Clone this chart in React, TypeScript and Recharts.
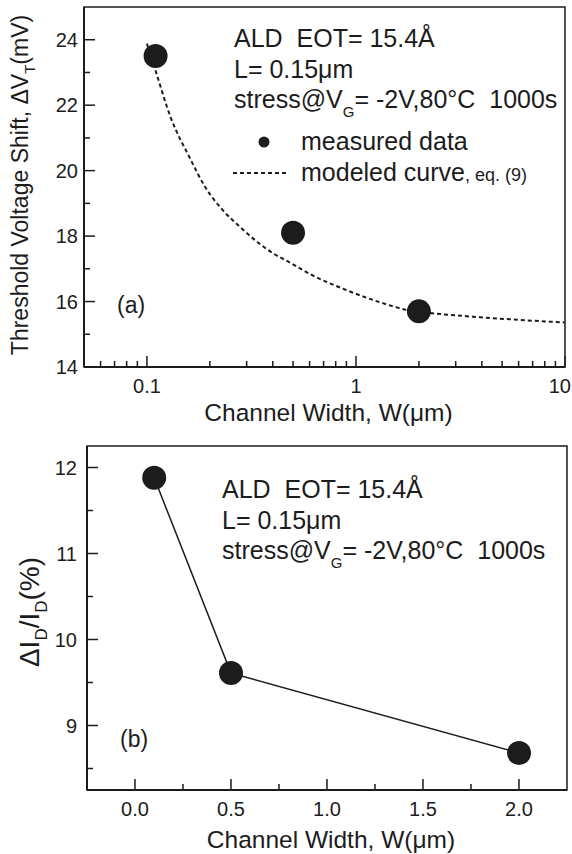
import React from 'react';
import {
  ComposedChart,
  LineChart,
  Line,
  Scatter,
  XAxis,
  YAxis,
  Legend,
  ReferenceArea,
  Label
} from 'recharts';

const FONT = '"Liberation Sans", Arial, Helvetica, sans-serif';
const INK = '#1c1c1c';

// (a) threshold voltage shift vs channel width, log x
const widthA = [0.11, 0.5, 2];
const shiftA = [23.5, 18.1, 15.7];
const modelW = [0.1, 0.11, 0.13, 0.16, 0.19, 0.23, 0.28, 0.33, 0.4, 0.48, 0.62, 0.9, 1.3, 1.76, 2.27, 3.95, 10];
const modelV = [23.88, 23.05, 21.62, 20.4, 19.5, 18.8, 18.27, 17.87, 17.48, 17.2, 16.8, 16.35, 15.98, 15.74, 15.65, 15.52, 15.36];
const ticksAx = [0.06, 0.07, 0.08, 0.09, 0.1, 0.2, 0.3, 0.4, 0.5, 0.6, 0.7, 0.8, 0.9, 1, 2, 3, 4, 5, 6, 7, 8, 9, 10];
const majorAx = [0.1, 1, 10];
const ticksAy = [14, 15, 16, 17, 18, 19, 20, 21, 22, 23, 24];
const majorAy = [14, 16, 18, 20, 22, 24];

// (b) drain current degradation vs channel width
const widthB = [0.1, 0.5, 2];
const idB = [11.88, 9.61, 8.68];
const ticksBx = [0, 0.25, 0.5, 0.75, 1, 1.25, 1.5, 1.75, 2];
const majorBx = [0, 0.5, 1, 1.5, 2];
const ticksBy = [8.5, 9, 9.5, 10, 10.5, 11, 11.5, 12];
const majorBy = [9, 10, 11, 12];

const pointsA = widthA.map((w, i) => ({ w, v: shiftA[i] }));
const modelA = modelW.map((w, i) => ({ w, v: modelV[i] }));
const pointsB = widthB.map((w, i) => ({ w, v: idB[i] }));

const isIn = (list: number[], v: number) => list.some((m) => Math.abs(m - v) < 1e-9);

const xTick = (majors: number[], fmt: (v: number) => string) => (props: any) => {
  const { x, y, payload } = props;
  const major = isIn(majors, payload.value);
  // the last label sits on the right frame, keep it inside the page
  const edge = x > 555;
  return (
    <g>
      <line x1={x} x2={x} y1={y} y2={y - (major ? 11 : 6)} stroke={INK} strokeWidth={1.5} />
      {major && (
        <text
          x={edge ? 571 : x}
          y={y + 26}
          textAnchor={edge ? 'end' : 'middle'}
          fontSize={20}
          fontFamily={FONT}
          fill={INK}
        >
          {fmt(payload.value)}
        </text>
      )}
    </g>
  );
};

const yTick = (majors: number[], gap: number) => (props: any) => {
  const { x, y, payload } = props;
  const major = isIn(majors, payload.value);
  return (
    <g>
      <line x1={x} x2={x + (major ? 11 : 6)} y1={y} y2={y} stroke={INK} strokeWidth={1.5} />
      {major && (
        <text x={x - gap} y={y + 7} textAnchor="end" fontSize={20} fontFamily={FONT} fill={INK}>
          {payload.value}
        </text>
      )}
    </g>
  );
};

const xTitle = (dy: number) => (props: any) => {
  const { x, y, width } = props.viewBox;
  return (
    <text x={x + width / 2 + 4} y={y + dy} textAnchor="middle" fontSize={24.5} fontFamily={FONT} fill={INK}>
      Channel Width, W(μm)
    </text>
  );
};

const yTitleA = (props: any) => {
  const { y, height } = props.viewBox;
  const cx = 28;
  const cy = y + height / 2 - 2;
  return (
    <text transform={`translate(${cx},${cy}) rotate(-90)`} textAnchor="middle" fontSize={23} fontFamily={FONT} fill={INK}>
      Threshold Voltage Shift, ΔV
      <tspan fontSize={15} dy={7}>T</tspan>
      <tspan dy={-7}>(mV)</tspan>
    </text>
  );
};

const yTitleB = (props: any) => {
  const { y, height } = props.viewBox;
  const cx = 39;
  const cy = y + height / 2 - 6;
  return (
    <text transform={`translate(${cx},${cy}) rotate(-90)`} textAnchor="middle" fontSize={28} fontFamily={FONT} fill={INK}>
      ΔI
      <tspan fontSize={17} dy={8}>D</tspan>
      <tspan dy={-8}>/I</tspan>
      <tspan fontSize={17} dy={8}>D</tspan>
      <tspan dy={-8}>(%)</tspan>
    </text>
  );
};

const Notes = ({ x, y, tag, tagX, tagY }: { x: number; y: number; tag: string; tagX: number; tagY: number }) => (
  <svg width={572} height={430} style={{ position: 'absolute', left: 0, top: 0, pointerEvents: 'none' }}>
    <g fontFamily={FONT} fontSize={25} fill={INK}>
      <text x={x} y={y} xmlSpace="preserve">ALD  EOT= 15.4Å</text>
      <text x={x} y={y + 31}>L= 0.15μm</text>
      <text x={x} y={y + 61} xmlSpace="preserve">
        stress@V
        <tspan fontSize={15} dy={9}>G</tspan>
        <tspan dy={-9} xmlSpace="preserve">= -2V,80°C  1000s</tspan>
      </text>
      <text x={tagX} y={tagY} fontSize={23}>{tag}</text>
    </g>
  </svg>
);

const legendA = (props: any) => {
  const items = props.payload || [];
  return (
    <svg width={340} height={70}>
      {items.map((it: any, i: number) => {
        const cy = 14 + i * 31;
        const dashed = it.type === 'line';
        return (
          <g key={it.value}>
            {dashed ? (
              <line x1={0} x2={54} y1={cy} y2={cy} stroke={INK} strokeWidth={2} strokeDasharray="4 3" />
            ) : (
              <circle cx={31} cy={cy} r={5.5} fill={INK} />
            )}
            <text x={68} y={cy + 8} fontSize={25} fontFamily={FONT} fill={INK}>
              {it.value}
              {dashed && <tspan fontSize={18}>, eq. (9)</tspan>}
            </text>
          </g>
        );
      })}
    </svg>
  );
};

export default function App() {
  return (
    <div style={{ position: 'absolute', left: 0, top: 0, width: 572, height: 854, background: '#fff' }}>
      <div style={{ position: 'absolute', left: 0, top: 0, width: 572, height: 430 }}>
        <ComposedChart width={572} height={430} margin={{ top: 7, right: 7, bottom: 0, left: 0 }}>
          <XAxis
            dataKey="w"
            type="number"
            scale="log"
            domain={[0.05, 10]}
            allowDataOverflow
            ticks={ticksAx}
            interval={0}
            tickSize={0}
            tickMargin={0}
            tick={xTick(majorAx, (v) => String(v))}
            axisLine={{ stroke: INK, strokeWidth: 2 }}
            height={63}
          >
            <Label content={xTitle(54)} />
          </XAxis>
          <YAxis
            type="number"
            domain={[14, 25]}
            allowDataOverflow
            ticks={ticksAy}
            interval={0}
            tickSize={0}
            tickMargin={0}
            tick={yTick(majorAy, 6)}
            axisLine={{ stroke: INK, strokeWidth: 2 }}
            width={84}
          >
            <Label content={yTitleA} />
          </YAxis>
          <ReferenceArea x1={0.05} x2={10} y1={14} y2={25} fill="none" stroke={INK} strokeWidth={1.5} />
          <Line
            data={modelA}
            dataKey="v"
            name="modeled curve"
            type="monotone"
            stroke={INK}
            strokeWidth={2}
            strokeDasharray="4 3"
            dot={false}
            legendType="line"
            isAnimationActive={false}
          />
          <Scatter
            data={pointsA}
            dataKey="v"
            name="measured data"
            fill={INK}
            legendType="circle"
            shape={(p: any) => <circle cx={p.cx} cy={p.cy} r={12} fill={INK} />}
            isAnimationActive={false}
          />
          <Legend
            layout="horizontal"
            verticalAlign="middle"
            align="center"
            content={legendA}
            wrapperStyle={{ position: 'absolute', left: 233, top: 128, width: 340, height: 70 }}
          />
        </ComposedChart>
        <Notes x={234} y={47} tag="(a)" tagX={117} tagY={313} />
      </div>

      <div style={{ position: 'absolute', left: 0, top: 430, width: 572, height: 424 }}>
        <LineChart width={572} height={424} data={pointsB} margin={{ top: 16, right: 5, bottom: 0, left: 0 }}>
          <XAxis
            dataKey="w"
            type="number"
            domain={[-0.25, 2.25]}
            allowDataOverflow
            ticks={ticksBx}
            interval={0}
            tickSize={0}
            tickMargin={0}
            tick={xTick(majorBx, (v) => v.toFixed(1))}
            axisLine={{ stroke: INK, strokeWidth: 2 }}
            height={64}
          >
            <Label content={xTitle(58)} />
          </XAxis>
          <YAxis
            type="number"
            domain={[8.25, 12.25]}
            allowDataOverflow
            ticks={ticksBy}
            interval={0}
            tickSize={0}
            tickMargin={0}
            tick={yTick(majorBy, 10)}
            axisLine={{ stroke: INK, strokeWidth: 2 }}
            width={87}
          >
            <Label content={yTitleB} />
          </YAxis>
          <ReferenceArea x1={-0.25} x2={2.25} y1={8.25} y2={12.25} fill="none" stroke={INK} strokeWidth={1.5} />
          <Line
            dataKey="v"
            type="linear"
            stroke={INK}
            strokeWidth={1.5}
            dot={{ r: 12, fill: INK, stroke: 'none' }}
            activeDot={false}
            isAnimationActive={false}
          />
        </LineChart>
        <div style={{ position: 'absolute', left: 0, top: 0 }}>
          <Notes x={222} y={68} tag="(b)" tagX={120} tagY={317} />
        </div>
      </div>
    </div>
  );
}
